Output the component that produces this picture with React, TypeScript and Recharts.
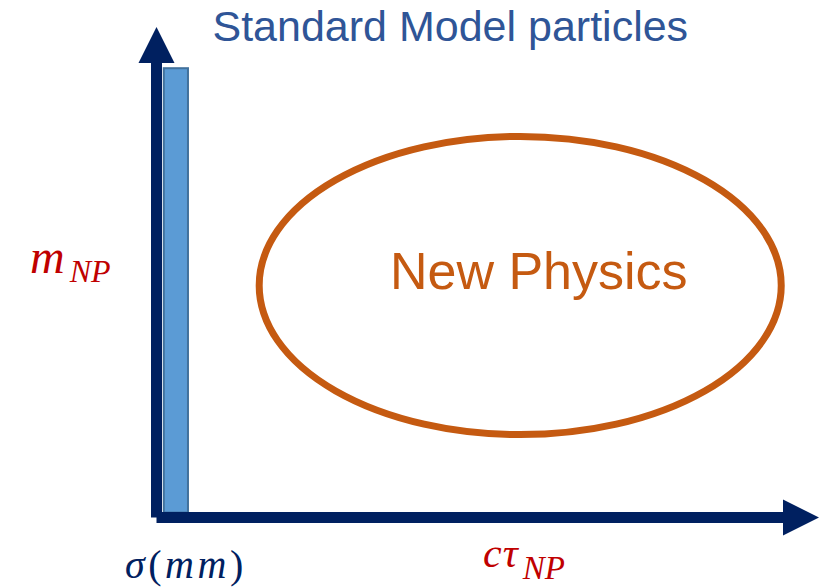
import React from 'react';
import { ComposedChart, XAxis, YAxis, ReferenceArea, ReferenceLine, ReferenceDot } from 'recharts';

// schematic axes: abstract units 0..100 (lifetime cτ on x, mass m on y)
const axisDomain: [number, number] = [0, 100];
const xArrow = [{ x: 0, y: 0 }, { x: 100, y: 0 }];
const yArrow = [{ x: 0, y: 0 }, { x: 0, y: 100 }];

// Standard Model band (prompt, small σ)
const smBand = { x1: 1.1, x2: 4.75, y1: 1, y2: 91.6 };
// New Physics region
const npRegion = { x1: 15.5, x2: 94.3, y1: 16.9, y2: 77.7 };

// label anchors (data units)
const titleText = 'Standard Model particles';
const regionText = 'New Physics';
const titleAnchor = { x: 8.45, y: 97.1 };
const regionAnchor = { x: 57.7, y: 46.6 };
const massAnchor = { x: -19.1, y: 49.8 };
const sigmaAnchor = { x: -4.75, y: -12.4 };
const ctauAnchor = { x: 49.3, y: -10.1 };

const NAVY = '#002060';
const RED = '#C00000';
const ORANGE = '#C55A11';
const MATH_FONT = '"Liberation Serif", "DejaVu Serif", serif';

const ArrowShape = (props: any) => {
  const { x1, y1, x2, y2 } = props;
  const dx = x2 - x1;
  const dy = y2 - y1;
  const len = Math.hypot(dx, dy) || 1;
  const ux = dx / len;
  const uy = dy / len;
  const px = -uy;
  const py = ux;
  const hl = 36;
  const hw = 18;
  const sw = 5.5;
  const bx = x2 - ux * hl;
  const by = y2 - uy * hl;
  const pts = [
    [x1 + px * sw, y1 + py * sw],
    [bx + px * sw, by + py * sw],
    [bx + px * hw, by + py * hw],
    [x2, y2],
    [bx - px * hw, by - py * hw],
    [bx - px * sw, by - py * sw],
    [x1 - px * sw, y1 - py * sw],
  ];
  return <polygon points={pts.map((p) => p.join(',')).join(' ')} fill={NAVY} />;
};

const BandShape = (props: any) => {
  const { x, y, width, height } = props;
  return <rect x={x} y={y} width={width} height={height} fill="#5B9BD5" stroke="#41719C" strokeWidth={2} />;
};

const EllipseShape = (props: any) => {
  const { x, y, width, height } = props;
  return (
    <ellipse
      cx={x + width / 2}
      cy={y + height / 2}
      rx={Math.abs(width) / 2}
      ry={Math.abs(height) / 2}
      fill="none"
      stroke={ORANGE}
      strokeWidth={7}
    />
  );
};

const TitleLabel = (p: any) => (
  <text x={p.cx} y={p.cy} fill="#2F5597" fontSize={43} fontFamily='"Liberation Sans", Arial, sans-serif'>
    {titleText}
  </text>
);

const RegionLabel = (p: any) => (
  <text x={p.cx} y={p.cy} fill={ORANGE} fontSize={52} textAnchor="middle" fontFamily='"Liberation Sans", Arial, sans-serif'>
    {regionText}
  </text>
);

const MassLabel = (p: any) => (
  <text x={p.cx} y={p.cy} fill={RED} fontFamily={MATH_FONT} fontStyle="italic">
    <tspan fontSize={48}>m</tspan>
    <tspan fontSize={32} dx={5} dy={9}>NP</tspan>
  </text>
);

const SigmaLabel = (p: any) => (
  <text x={p.cx} y={p.cy} fill={NAVY} fontFamily={MATH_FONT} fontSize={40} letterSpacing={3.5}>
    <tspan fontStyle="italic">σ</tspan>
    <tspan>(</tspan>
    <tspan fontStyle="italic">mm</tspan>
    <tspan>)</tspan>
  </text>
);

const CtauLabel = (p: any) => (
  <text x={p.cx} y={p.cy} fill={RED} fontFamily={MATH_FONT} fontStyle="italic">
    <tspan fontSize={42} letterSpacing={1}>cτ</tspan>
    <tspan fontSize={33} dx={4} dy={12}>NP</tspan>
  </text>
);

export default function App() {
  return (
    <div style={{ position: 'absolute', left: 0, top: 0, width: 820, height: 588, background: '#fff' }}>
      <ComposedChart width={820} height={588} data={[]} margin={{ top: 27, right: 1, bottom: 70.5, left: 156.5 }}>
        <XAxis type="number" dataKey="x" domain={axisDomain} hide allowDataOverflow />
        <YAxis type="number" dataKey="y" domain={axisDomain} hide allowDataOverflow />
        <ReferenceLine segment={yArrow} ifOverflow="visible" shape={ArrowShape} />
        <ReferenceArea x1={smBand.x1} x2={smBand.x2} y1={smBand.y1} y2={smBand.y2} ifOverflow="visible" shape={BandShape} />
        <ReferenceLine segment={xArrow} ifOverflow="visible" shape={ArrowShape} />
        <ReferenceArea x1={npRegion.x1} x2={npRegion.x2} y1={npRegion.y1} y2={npRegion.y2} ifOverflow="visible" shape={EllipseShape} />
        <ReferenceDot x={titleAnchor.x} y={titleAnchor.y} r={0} ifOverflow="visible" shape={TitleLabel} />
        <ReferenceDot x={regionAnchor.x} y={regionAnchor.y} r={0} ifOverflow="visible" shape={RegionLabel} />
        <ReferenceDot x={massAnchor.x} y={massAnchor.y} r={0} ifOverflow="visible" shape={MassLabel} />
        <ReferenceDot x={sigmaAnchor.x} y={sigmaAnchor.y} r={0} ifOverflow="visible" shape={SigmaLabel} />
        <ReferenceDot x={ctauAnchor.x} y={ctauAnchor.y} r={0} ifOverflow="visible" shape={CtauLabel} />
      </ComposedChart>
    </div>
  );
}
